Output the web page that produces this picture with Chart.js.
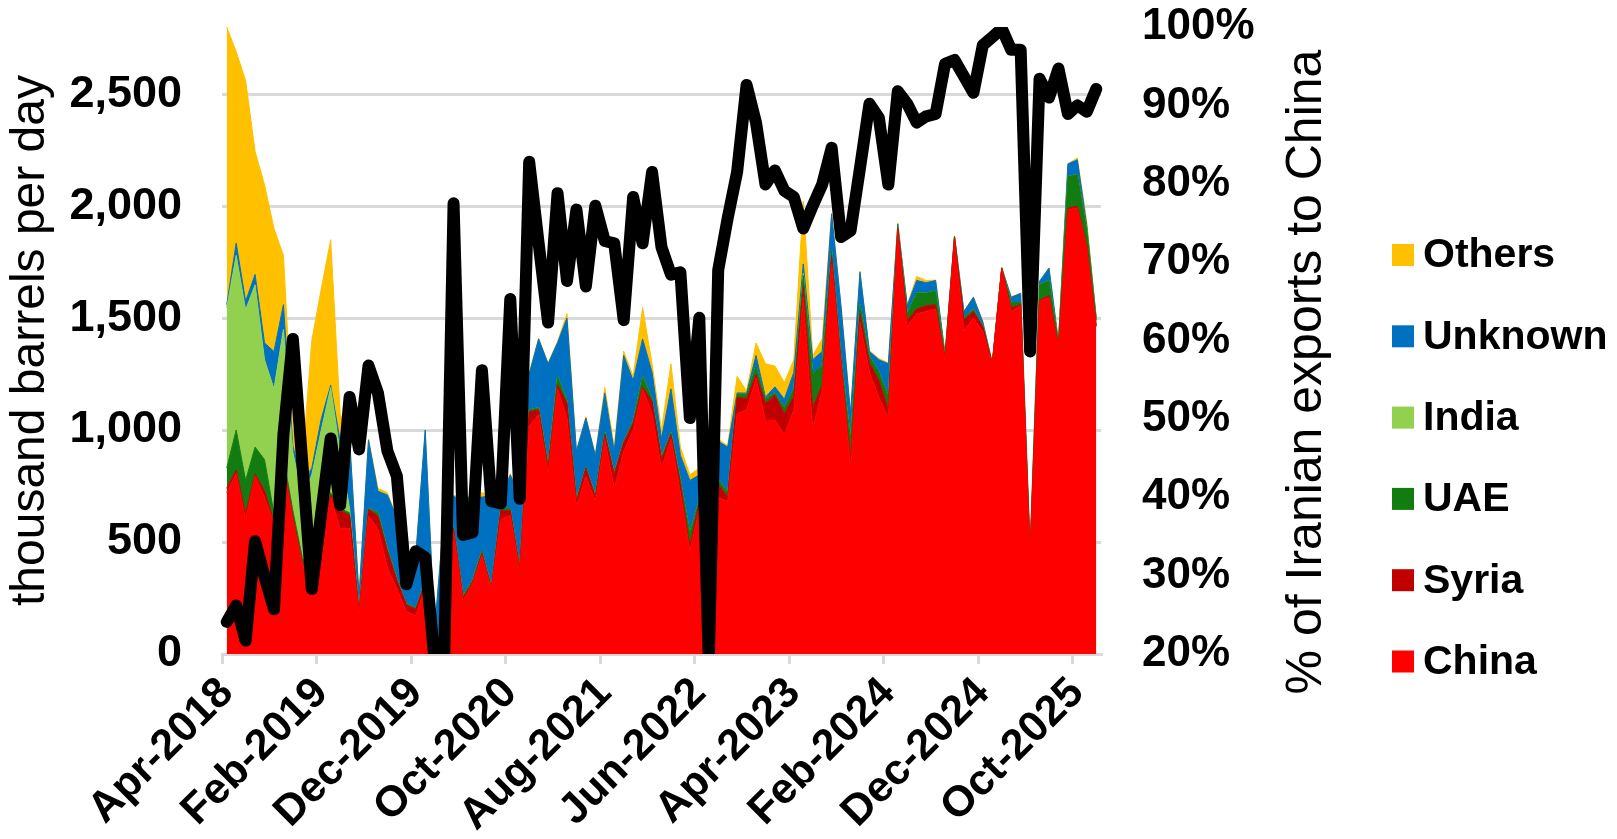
<!DOCTYPE html>
<html>
<head>
<meta charset="utf-8">
<script src="https://cdn.jsdelivr.net/npm/chart.js@4.4.1/dist/chart.umd.min.js"></script>
<style>
  html, body { margin: 0; padding: 0; background: #fff; }
  #wrap { width: 1617px; height: 839px; }
</style>
</head>
<body>
<div id="wrap"><canvas id="chart" width="1617" height="839"></canvas></div>
<script>
// months shown: Apr-2018 .. Dec-2025
let monthNames = ["Jan","Feb","Mar","Apr","May","Jun","Jul","Aug","Sep","Oct","Nov","Dec"];
let months = [];
for (let y = 2018, m = 3; months.length < 93; m++) {
  if (m == 12) { m = 0; y++; }
  months.push(monthNames[m] + "-" + y);
}

// thousand barrels per day, by destination
let china = [720,805,600,795,700,580,850,600,400,320, 500,700,560,560,180,617,557,385,292,190,
  170,300,20,100,543,240,310,440,292,600, 620,370,1017,1070,810,1184,1054,660,794,682,
  961,738,905,998,1184,1073,831,961,720,459, 650,100,700,680,1073,1090,1231,1045,1045,980,
  1091,1593,1000,1184,1742,1290,831,1482,1258,1147, 1054,1891,1463,1519,1530,1540,1314,1853,1444,1500,
  1440,1296,1723,1530,1556,440,1575,1593,1370,1984, 1993,1816,1463];
let syria = [20,17,26,8,29,10,10,10,10,10, 10,10,80,60,10,29,59,74,37,30,
  30,20,5,10,17,10,10,10,4,40, 20,10,65,20,20,19,65,20,36,18,
  19,62,38,32,10,55,37,19,40,21, 30,10,60,20,74,50,18,74,111,93,
  59,47,100,16,38,10,39,38,42,74, 37,9,27,21,25,20,6,7,47,30,
  20,0,0,15,4,5,5,7,5,6, 7,4,2];
let uae = [90,178,149,121,139,36,20,30,20,10, 10,10,10,10,5,4,15,11,6,5,
  5,5,2,2,5,10,9,10,5,10, 10,5,8,10,15,37,11,10,5,10,
  10,10,7,10,46,12,12,10,20,60, 10,5,20,20,13,20,37,19,10,27,
  34,50,150,90,20,20,91,40,30,39, 59,10,29,72,57,61,10,5,9,10,
  5,2,1,25,10,5,69,68,15,142, 141,71,25];
let india = [715,780,762,725,446,558,570,260,270,460, 480,470,250,20,5,0,0,0,0,0,
  0,0,0,0,0,0,0,0,0,0, 0,0,0,0,0,0,0,0,0,0,
  0,0,0,0,0,0,0,0,0,0, 0,0,0,0,0,0,0,0,0,0,
  0,10,0,0,0,0,0,0,0,0, 0,0,0,0,0,0,0,0,0,0,
  0,0,0,0,0,0,0,0,0,0, 0,0,0];
let unknown = [15,55,38,46,75,167,110,30,60,30, 50,10,50,310,60,306,96,240,273,205,
  235,675,83,508,140,420,381,240,409,50, 150,315,160,307,451,150,370,215,219,177,
  176,95,383,181,167,118,81,194,107,235, 110,405,170,204,6,5,47,9,27,38,
  74,42,64,61,165,230,112,145,21,54, 146,10,37,56,46,47,10,0,30,53,
  17,2,1,23,40,20,16,55,5,56, 66,19,10];
let others = [1240,855,985,549,706,549,220,70,90,570, 580,650,123,5,0,4,13,10,2,2,
  2,0,0,5,5,10,2,20,2,5, 5,5,5,3,4,5,20,5,6,3,
  24,20,19,19,140,38,39,112,37,25, 30,20,10,6,74,10,56,149,93,74,
  56,279,19,56,5,5,2,5,4,6, 4,5,4,18,10,2,0,1,0,2,
  3,0,0,2,2,0,0,2,0,2, 8,20,0];

// share of Iranian exports going to China, %
let shareChina = [24.1,26.2,21.7,34.4,29.9,25.7,48,60.2,44.3,28.3, 38,47.5,39,52.8,46.1,56.8,53.3,45.9,42.7,28.9,
  33.1,32.3,19,19,77.5,35.2,35.5,56.2,39.5,39.2, 65.3,39.8,82.8,72.4,62.3,78.8,67.6,76.7,66.9,77.2,
  72.7,72.4,62.6,78.3,72.4,81.5,71.9,68.4,68.7,50.1, 62.9,19,69,75.6,81.5,92.6,87.8,79.9,81.7,79.1,
  78.3,74.3,77.2,79.9,84.6,73.2,74,82,90.2,88.4, 79.9,91.8,90.2,87.8,88.6,88.9,95.3,95.8,93.7,91.6,
  97.7,98.7,99.8,97.1,97.1,58.6,93.4,91,94.7,88.9, 90,89.2,92.1];

let leftTicks = [0, 500, 1000, 1500, 2000, 2500];
let seriesNames = ["China", "Syria", "UAE", "India", "Unknown", "Others"];
let seriesColors = ["#FF0000", "#C00000", "#137C10", "#92D050", "#0070C0", "#FFC000"];
let seriesData = [china, syria, uae, india, unknown, others];

let font = "'Liberation Sans', Arial, sans-serif";
let clear = "rgba(0,0,0,0)";

let areaSets = seriesData.map(function (d, k) {
  return {
    label: seriesNames[k],
    data: d,
    yAxisID: "y",
    backgroundColor: seriesColors[k],
    borderColor: seriesColors[k],
    borderWidth: 1,
    pointRadius: 0,
    tension: 0,
    fill: k == 0 ? "origin" : "-1",
    order: 1
  };
});

// legend + right axis title drawn by hand (Excel-like placement)
let extras = {
  id: "extras",
  afterDraw(chart) {
    let ctx = chart.ctx;
    ctx.save();
    ctx.fillStyle = "#000";
    ctx.font = "50px " + font;
    ctx.textAlign = "center";
    ctx.textBaseline = "middle";
    ctx.translate(1307, 372);
    ctx.rotate(-Math.PI / 2);
    ctx.fillText("% of Iranian exports to China", 0, 0);
    ctx.restore();

    ctx.save();
    ctx.font = "bold 41px " + font;
    ctx.textBaseline = "middle";
    ctx.textAlign = "left";
    for (let k = 0; k < 6; k++) {
      let s = 5 - k;
      let yy = 255 + k * 81.3;
      ctx.fillStyle = seriesColors[s];
      ctx.fillRect(1392, yy - 11, 22, 22);
      ctx.fillStyle = "#000";
      ctx.fillText(seriesNames[s], 1423, yy + 1);
    }
    ctx.restore();
  }
};

let chart = new Chart(document.getElementById("chart"), {
  type: "line",
  data: {
    labels: months,
    datasets: [{
      label: "% to China",
      data: shareChina,
      yAxisID: "y2",
      borderColor: "#000",
      borderWidth: 12,
      borderJoinStyle: "round",
      borderCapStyle: "round",
      pointRadius: 0,
      tension: 0,
      fill: false,
      order: 0
    }].concat(areaSets)
  },
  options: {
    responsive: false,
    devicePixelRatio: 1,
    animation: false,
    layout: { padding: { top: 27, left: 0, right: 0, bottom: 0 } },
    plugins: { legend: { display: false }, tooltip: { enabled: false } },
    scales: {
      x: {
        offset: true,
        afterFit: function (s) { s.height = 185; },
        grid: {
          offset: true,
          drawOnChartArea: false,
          drawTicks: true,
          tickLength: 10,
          lineWidth: 3,
          color: function (c) { return c.index % 10 == 0 ? "#d9d9d9" : clear; }
        },
        border: { display: true, color: "#d9d9d9", width: 3 },
        ticks: {
          autoSkip: false,
          maxRotation: 45,
          minRotation: 45,
          padding: 4,
          color: "#000",
          font: { family: font, size: 43, weight: "bold" },
          callback: function (v, i) { return i % 10 == 0 ? months[i] : ""; }
        }
      },
      y: {
        position: "left",
        stacked: true,
        min: 0,
        max: 2800,
        afterFit: function (s) { s.width = 222; },
        afterBuildTicks: function (s) {
          s.ticks = leftTicks.map(function (v) { return { value: v }; });
        },
        grid: { color: "#d9d9d9", lineWidth: 3, drawTicks: true, tickLength: 40, tickColor: clear },
        border: { display: false },
        ticks: {
          padding: 0,
          color: "#000",
          font: { family: font, size: 45, weight: "bold" },
          callback: function (v) { return v.toLocaleString("en-US"); }
        },
        title: {
          display: true,
          text: "thousand barrels per day",
          color: "#000",
          padding: { top: 2, bottom: 0 },
          font: { family: font, size: 48 }
        }
      },
      y2: {
        position: "right",
        min: 20,
        max: 100,
        afterFit: function (s) { s.width = 516; },
        grid: { display: false, drawTicks: true, tickLength: 41 },
        border: { display: false },
        ticks: {
          stepSize: 10,
          padding: 0,
          color: "#000",
          font: { family: font, size: 44, weight: "bold" },
          callback: function (v) { return v + "%"; }
        }
      }
    }
  },
  plugins: [extras]
});
</script>
</body>
</html>
